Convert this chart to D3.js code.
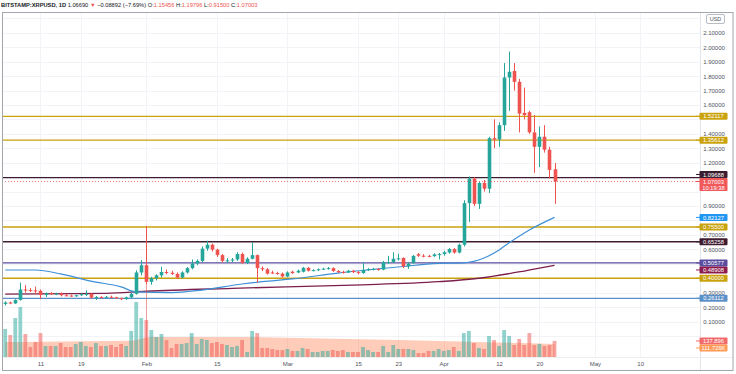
<!DOCTYPE html>
<html>
<head>
<meta charset="utf-8">
<script src="https://cdn.jsdelivr.net/npm/d3@7"></script>
<style>
  body { margin: 0; background: #fff; }
  svg text { font-family: "Liberation Sans", Arial, sans-serif; }
</style>
</head>
<body>
<svg id="chart"></svg>
<script>
// daily candles, the first one is Jan 4 2021
let firstDay = new Date(2021, 0, 4);

let opens = [
  0.222, 0.232, 0.226, 0.250, 0.322, 0.318, 0.316, 0.313, 0.284, 0.296,
  0.292, 0.294, 0.282, 0.280, 0.278, 0.282, 0.290, 0.292, 0.266, 0.270,
  0.268, 0.271, 0.268, 0.262, 0.255, 0.268, 0.292, 0.440, 0.490, 0.375,
  0.400, 0.420, 0.443, 0.438, 0.430, 0.405, 0.440, 0.470, 0.502, 0.520,
  0.605, 0.632, 0.598, 0.560, 0.520, 0.524, 0.530, 0.568, 0.506, 0.535,
  0.560, 0.470, 0.462, 0.440, 0.436, 0.432, 0.412, 0.445, 0.440, 0.445,
  0.472, 0.452, 0.456, 0.462, 0.466, 0.470, 0.450, 0.444, 0.440, 0.452,
  0.442, 0.436, 0.458, 0.462, 0.465, 0.460, 0.510, 0.512, 0.535, 0.540,
  0.482, 0.505, 0.566, 0.556, 0.555, 0.553, 0.565, 0.567, 0.578, 0.602,
  0.578, 0.632, 0.920, 1.090, 0.915, 1.060, 1.020, 1.370, 1.360, 1.460,
  1.790, 1.835, 1.760, 1.545, 1.550, 1.410, 1.310, 1.380, 1.290, 1.15456
];
let highs = [
  0.240, 0.238, 0.254, 0.370, 0.352, 0.332, 0.342, 0.322, 0.302, 0.304,
  0.300, 0.302, 0.291, 0.286, 0.286, 0.296, 0.316, 0.296, 0.276, 0.276,
  0.277, 0.280, 0.272, 0.266, 0.273, 0.302, 0.455, 0.525, 0.760, 0.410,
  0.428, 0.480, 0.460, 0.452, 0.440, 0.448, 0.478, 0.530, 0.530, 0.620,
  0.660, 0.640, 0.605, 0.568, 0.540, 0.540, 0.580, 0.578, 0.545, 0.650,
  0.565, 0.482, 0.470, 0.452, 0.445, 0.440, 0.448, 0.452, 0.460, 0.478,
  0.478, 0.462, 0.468, 0.472, 0.478, 0.476, 0.456, 0.452, 0.458, 0.456,
  0.450, 0.510, 0.470, 0.472, 0.470, 0.520, 0.555, 0.580, 0.570, 0.545,
  0.510, 0.560, 0.575, 0.566, 0.562, 0.572, 0.575, 0.590, 0.610, 0.610,
  0.640, 0.940, 1.105, 1.100, 1.070, 1.080, 1.380, 1.500, 1.480, 1.890,
  1.970, 1.890, 1.780, 1.720, 1.560, 1.530, 1.450, 1.460, 1.310, 1.19796
];
let lows = [
  0.212, 0.220, 0.222, 0.245, 0.300, 0.305, 0.290, 0.255, 0.270, 0.284,
  0.283, 0.274, 0.275, 0.272, 0.271, 0.278, 0.276, 0.258, 0.250, 0.262,
  0.262, 0.262, 0.257, 0.248, 0.251, 0.262, 0.286, 0.420, 0.360, 0.355,
  0.385, 0.405, 0.428, 0.422, 0.395, 0.400, 0.432, 0.462, 0.490, 0.512,
  0.590, 0.585, 0.548, 0.508, 0.505, 0.512, 0.520, 0.500, 0.498, 0.530,
  0.370, 0.450, 0.425, 0.430, 0.425, 0.405, 0.408, 0.430, 0.435, 0.440,
  0.446, 0.448, 0.450, 0.458, 0.460, 0.444, 0.436, 0.432, 0.436, 0.436,
  0.428, 0.430, 0.450, 0.455, 0.452, 0.456, 0.500, 0.505, 0.522, 0.470,
  0.465, 0.500, 0.548, 0.545, 0.545, 0.548, 0.530, 0.556, 0.570, 0.570,
  0.572, 0.620, 0.790, 0.900, 0.880, 1.000, 0.990, 1.300, 1.310, 1.420,
  1.560, 1.700, 1.410, 1.500, 1.400, 1.130, 1.170, 1.270, 1.090, 0.915
];
let closes = [
  0.232, 0.226, 0.250, 0.322, 0.318, 0.316, 0.313, 0.284, 0.296, 0.292,
  0.294, 0.282, 0.280, 0.278, 0.282, 0.290, 0.292, 0.266, 0.270, 0.268,
  0.271, 0.268, 0.262, 0.255, 0.268, 0.292, 0.440, 0.490, 0.375, 0.400,
  0.420, 0.443, 0.438, 0.430, 0.405, 0.440, 0.470, 0.502, 0.520, 0.605,
  0.632, 0.598, 0.560, 0.520, 0.524, 0.530, 0.568, 0.506, 0.535, 0.560,
  0.470, 0.462, 0.432, 0.436, 0.432, 0.412, 0.440, 0.436, 0.452, 0.472,
  0.452, 0.456, 0.462, 0.466, 0.470, 0.450, 0.442, 0.440, 0.452, 0.442,
  0.436, 0.458, 0.462, 0.465, 0.460, 0.510, 0.512, 0.535, 0.538, 0.482,
  0.500, 0.555, 0.556, 0.555, 0.553, 0.565, 0.567, 0.580, 0.602, 0.578,
  0.632, 0.920, 1.090, 0.915, 1.060, 1.020, 1.370, 1.360, 1.460, 1.790,
  1.830, 1.760, 1.540, 1.530, 1.410, 1.310, 1.380, 1.290, 1.150, 1.07003
];
// volume in millions
let volumes = [
  241, 189, 335, 430, 198, 86, 129, 206, 95, 95,
  95, 120, 86, 86, 112, 129, 95, 86, 120, 95,
  95, 103, 86, 112, 95, 224, 473, 335, 318, 232,
  172, 198, 146, 77, 112, 112, 120, 206, 112, 155,
  146, 120, 129, 112, 103, 86, 95, 146, 43, 224,
  206, 77, 77, 69, 60, 60, 69, 52, 52, 77,
  69, 43, 43, 52, 52, 60, 52, 60, 43, 43,
  43, 86, 60, 43, 43, 95, 43, 103, 69, 69,
  69, 60, 34, 34, 52, 52, 69, 52, 60, 86,
  52, 206, 224, 120, 77, 69, 181, 146, 95, 232,
  181, 103, 155, 103, 206, 103, 112, 95, 103, 137.896
];

// moving averages: day index -> value
let ma50Days = [0, 6, 11, 17, 23, 26, 33, 39, 47, 51, 57, 66, 78, 86, 91, 95, 98, 100, 104, 109];
let ma50Values = [0.457, 0.457, 0.43, 0.38, 0.34, 0.305, 0.30, 0.318, 0.36, 0.376, 0.395, 0.436, 0.478, 0.503, 0.507, 0.54, 0.596, 0.645, 0.734, 0.82127];
let ma200Days = [0, 20, 28, 45, 69, 86, 94, 103, 109];
let ma200Values = [0.29, 0.295, 0.31, 0.33, 0.353, 0.376, 0.40, 0.45, 0.48908];
let volMaDays = [0, 7, 25, 29, 47, 58, 78, 90, 109];
let volMaValues = [129, 132, 140, 172, 172, 163, 146, 133, 111.726];

// horizontal levels drawn on the chart
let levelValues = [1.52117, 1.35612, 1.09688, 0.755, 0.65258, 0.50577, 0.4, 0.26112];
let levelLabels = ["1.52117", "1.35612", "1.09688", "0.75500", "0.65258", "0.50577", "0.40000", "0.26112"];
let levelColors = ["#c9a20c", "#c9a20c", "#3a1d2f", "#c9a20c", "#3f1c30", "#5b4c9f", "#c9a20c", "#5b90c8"];

let priceTicks = [0, 0.1, 0.2, 0.3, 0.4, 0.5, 0.6, 0.7, 0.8, 0.9, 1.0, 1.1, 1.2, 1.3, 1.4, 1.5, 1.6, 1.7, 1.8, 1.9, 2.0, 2.1, 2.2];
let timeTickDates = [
  new Date(2021, 0, 11), new Date(2021, 0, 19), new Date(2021, 1, 1), new Date(2021, 1, 15),
  new Date(2021, 2, 1), new Date(2021, 2, 15), new Date(2021, 2, 23), new Date(2021, 3, 1),
  new Date(2021, 3, 12), new Date(2021, 3, 20), new Date(2021, 4, 1), new Date(2021, 4, 10)
];
let timeTickLabels = ["11", "19", "Feb", "15", "Mar", "15", "23", "Apr", "12", "20", "May", "10"];

let spikeDay = new Date(2021, 1, 1);
let countdown = "10:19:38";
let volumeLabel = "137.896";
let volumeMaLabel = "111.726K";

let headerParts = [
  ["BITSTAMP:XRPUSD, 1D ", "#131722"], ["1.06690 ", "#131722"], ["\u25BC ", "#ef5350"],
  ["\u22120.08892 (\u22127.69%) ", "#131722"], ["O:", "#131722"], ["1.15456 ", "#ef5350"],
  ["H:", "#131722"], ["1.19796 ", "#ef5350"], ["L:", "#131722"], ["0.91500 ", "#ef5350"],
  ["C:", "#131722"], ["1.07003", "#ef5350"]
];

let width = 736;
let height = 374;
let plotLeft = 2;
let plotRight = 700;
let plotTop = 13;
let volBase = 357;

let upColor = "#26a69a";
let downColor = "#ef5350";

let dayOf = (i) => new Date(firstDay.getFullYear(), firstDay.getMonth(), firstDay.getDate() + i);
let dates = opens.map((d, i) => dayOf(i));

let svg = d3.select("#chart").attr("width", width).attr("height", height);

let xScale = d3.scaleTime()
  .domain([new Date(2021, 0, 4), new Date(2021, 4, 10)])
  .range([5.2, 640.2]);
let yScale = d3.scaleLinear().domain([0, 2.2]).range([336, 336 - 2.2 * 144.4]);
let vScale = d3.scaleLinear().domain([0, 500]).range([volBase, volBase - 500 / 8.6]);

let fmt = d3.format(".5f");

svg.append("defs").append("clipPath").attr("id", "plot")
  .append("rect").attr("x", plotLeft).attr("y", plotTop)
  .attr("width", plotRight - plotLeft).attr("height", volBase - plotTop);

let plot = svg.append("g").attr("clip-path", "url(#plot)");

let drawGrid = () => {
  plot.append("g").selectAll("line").data(priceTicks).enter().append("line")
    .attr("x1", plotLeft).attr("x2", plotRight)
    .attr("y1", (d) => Math.round(yScale(d)) + 0.5).attr("y2", (d) => Math.round(yScale(d)) + 0.5)
    .attr("stroke", "#f2f3f6").attr("stroke-width", 1);
  plot.append("g").selectAll("line").data(timeTickDates).enter().append("line")
    .attr("x1", (d) => Math.round(xScale(d)) + 0.5).attr("x2", (d) => Math.round(xScale(d)) + 0.5)
    .attr("y1", plotTop).attr("y2", volBase)
    .attr("stroke", "#f2f3f6").attr("stroke-width", 1);
};

let drawVolume = () => {
  let area = d3.area()
    .x((d) => xScale(dayOf(d[0])))
    .y0(volBase)
    .y1((d) => vScale(d[1]))
    .curve(d3.curveMonotoneX);
  let pts = volMaDays.map((d, i) => [d, volMaValues[i]]);
  plot.append("path").datum(pts).attr("d", area)
    .attr("fill", "rgba(255,120,70,0.38)");

  plot.append("g").selectAll("rect").data(volumes).enter().append("rect")
    .attr("x", (d, i) => xScale(dates[i]) - 1.9)
    .attr("width", 3.8)
    .attr("y", (d) => vScale(d))
    .attr("height", (d) => volBase - vScale(d))
    .attr("fill", (d, i) => closes[i] >= opens[i] ? "rgba(38,166,154,0.5)" : "rgba(239,83,80,0.5)");
};

let drawLevels = () => {
  plot.append("g").selectAll("line").data(levelValues).enter().append("line")
    .attr("x1", plotLeft).attr("x2", plotRight)
    .attr("y1", (d) => yScale(d)).attr("y2", (d) => yScale(d))
    .attr("stroke", (d, i) => levelColors[i]).attr("stroke-width", 1.3);
};

let drawAverages = () => {
  let line = d3.line()
    .x((d) => xScale(dayOf(d[0])))
    .y((d) => yScale(d[1]))
    .curve(d3.curveMonotoneX);
  plot.append("path").datum(ma200Days.map((d, i) => [d, ma200Values[i]]))
    .attr("d", line).attr("fill", "none").attr("stroke", "#7d1f4c").attr("stroke-width", 1.3);
  plot.append("path").datum(ma50Days.map((d, i) => [d, ma50Values[i]]))
    .attr("d", line).attr("fill", "none").attr("stroke", "#3f8fd8").attr("stroke-width", 1.2);
};

let drawCandles = () => {
  // pink marker line on the Feb 1 spike
  plot.append("line")
    .attr("x1", Math.round(xScale(spikeDay)) + 0.5).attr("x2", Math.round(xScale(spikeDay)) + 0.5)
    .attr("y1", yScale(highs[28])).attr("y2", volBase)
    .attr("stroke", "rgba(239,83,80,0.55)").attr("stroke-width", 1);

  let g = plot.append("g");
  g.selectAll("line").data(opens).enter().append("line")
    .attr("x1", (d, i) => Math.round(xScale(dates[i])) + 0.5)
    .attr("x2", (d, i) => Math.round(xScale(dates[i])) + 0.5)
    .attr("y1", (d, i) => yScale(highs[i]))
    .attr("y2", (d, i) => yScale(lows[i]))
    .attr("stroke", (d, i) => closes[i] >= opens[i] ? upColor : downColor)
    .attr("stroke-width", 1);
  g.selectAll("rect").data(opens).enter().append("rect")
    .attr("x", (d, i) => Math.round(xScale(dates[i])) + 0.5 - 1.8)
    .attr("width", 3.6)
    .attr("y", (d, i) => yScale(Math.max(opens[i], closes[i])))
    .attr("height", (d, i) => Math.max(1, Math.abs(yScale(opens[i]) - yScale(closes[i]))))
    .attr("fill", (d, i) => closes[i] >= opens[i] ? upColor : downColor);

  let last = closes[closes.length - 1];
  plot.append("line")
    .attr("x1", plotLeft).attr("x2", plotRight)
    .attr("y1", yScale(last)).attr("y2", yScale(last))
    .attr("stroke", downColor).attr("stroke-width", 0.8).attr("stroke-dasharray", "1,2");
};

let drawFrame = () => {
  svg.append("line").attr("x1", plotRight + 0.5).attr("x2", plotRight + 0.5)
    .attr("y1", plotTop).attr("y2", 371).attr("stroke", "#e3e5ea");
  svg.append("line").attr("x1", plotLeft).attr("x2", 733)
    .attr("y1", volBase + 0.5).attr("y2", volBase + 0.5).attr("stroke", "#eceef2");
  svg.append("rect").attr("x", 2.5).attr("y", 12.5).attr("width", 730.5).attr("height", 358)
    .attr("fill", "none").attr("stroke", "#a3a6ad").attr("stroke-width", 1);
};

// right-hand price labels, pushed apart so they do not overlap
let labels = [];

let layoutLabels = () => {
  labels = levelValues.map((v, i) => ({ y: yScale(v), up: 3.5, down: 3.5, text: [levelLabels[i]], fill: levelColors[i], fixed: false }));
  labels.push({ y: yScale(ma50Values[ma50Values.length - 1]), up: 3.5, down: 3.5, text: [fmt(ma50Values[ma50Values.length - 1])], fill: "#2196f3", fixed: false });
  labels.push({ y: yScale(ma200Values[ma200Values.length - 1]), up: 3.5, down: 3.5, text: [fmt(ma200Values[ma200Values.length - 1])], fill: "#8c1c4e", fixed: false });
  labels.push({ y: yScale(closes[closes.length - 1]), up: 3.5, down: 9.5, text: [fmt(closes[closes.length - 1]), countdown], fill: "#f0585a", fixed: true });
  labels.push({ y: vScale(volumes[volumes.length - 1]), up: 3.5, down: 3.5, text: [volumeLabel], fill: "#f36a6a", fixed: false });
  labels.push({ y: vScale(volMaValues[volMaValues.length - 1]), up: 3.5, down: 3.5, text: [volumeMaLabel], fill: "#ff9a57", fixed: false });

  labels.sort((a, b) => a.y - b.y);
  for (let i = 1; i < labels.length; i++) {
    let prev = labels[i - 1];
    let cur = labels[i];
    let overlap = (prev.y + prev.down) - (cur.y - cur.up);
    if (overlap > 0) {
      if (cur.fixed) prev.y -= overlap;
      else cur.y += overlap;
    }
  }
};

let drawAxes = () => {
  // ticks hidden under a coloured label or the currency badge are left out, like the original
  let visibleTicks = priceTicks.filter((t) => {
    let ty = yScale(t);
    if (ty < 26) return false;
    return !labels.some((l) => ty > l.y - l.up - 1.5 && ty < l.y + l.down + 1.5);
  });
  let yAxis = d3.axisRight(yScale).tickValues(visibleTicks).tickFormat(fmt).tickSize(0).tickPadding(0);
  let ya = svg.append("g").attr("transform", "translate(714,0)").call(yAxis);
  ya.select(".domain").remove();
  ya.selectAll("text").attr("text-anchor", "middle").attr("font-size", 6)
    .attr("fill", "#50535e").style("font-family", "Liberation Sans, Arial, sans-serif");

  let xAxis = d3.axisBottom(xScale).tickValues(timeTickDates)
    .tickFormat((d, i) => timeTickLabels[i]).tickSize(0).tickPadding(5);
  let xa = svg.append("g").attr("transform", "translate(0," + volBase + ")").call(xAxis);
  xa.select(".domain").remove();
  xa.selectAll("text").attr("font-size", 6).attr("fill", "#50535e")
    .style("font-family", "Liberation Sans, Arial, sans-serif");
};

let drawLabels = () => {
  let g = svg.append("g");
  labels.forEach((l) => {
    g.append("line").attr("x1", 696).attr("x2", 700).attr("y1", l.y).attr("y2", l.y)
      .attr("stroke", l.fill).attr("stroke-width", 1);
    g.append("rect").attr("x", 699.5).attr("y", l.y - l.up).attr("width", 28).attr("height", l.up + l.down)
      .attr("rx", 1).attr("fill", l.fill);
    l.text.forEach((t, j) => {
      g.append("text").attr("x", 713.5).attr("y", l.y + 2.1 + j * 6.3)
        .attr("text-anchor", "middle").attr("font-size", 5.8).attr("fill", "#fff").text(t);
    });
  });

  // currency badge at the top of the price scale
  g.append("rect").attr("x", 706.5).attr("y", 14.5).attr("width", 18).attr("height", 9)
    .attr("rx", 1.5).attr("fill", "#fff").attr("stroke", "#b9bcc4");
  g.append("text").attr("x", 715.5).attr("y", 21).attr("text-anchor", "middle")
    .attr("font-size", 5.5).attr("fill", "#50535e").text("USD");
};

let drawHeader = () => {
  let t = svg.append("text").attr("x", 1).attr("y", 7).attr("font-size", 6.4);
  headerParts.forEach((p, i) => {
    t.append("tspan").attr("fill", p[1]).attr("font-weight", i == 0 ? "bold" : "normal")
      .attr("xml:space", "preserve").text(p[0]);
  });
  // fit the line to the width it has in the original
  let w = t.node().getComputedTextLength();
  t.attr("font-size", 6.4 * 257 / w);
};

drawGrid();
drawVolume();
drawLevels();
drawAverages();
drawCandles();
drawFrame();
layoutLabels();
drawAxes();
drawLabels();
drawHeader();
</script>
</body>
</html>
